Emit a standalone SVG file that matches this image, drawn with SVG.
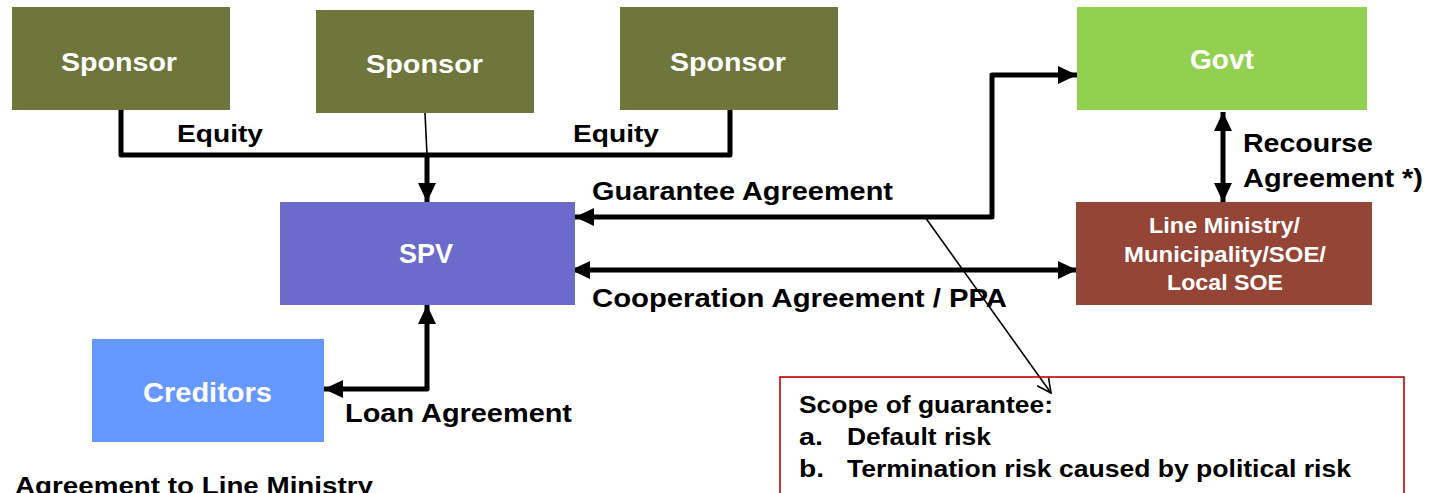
<svg xmlns="http://www.w3.org/2000/svg" width="1434" height="493" viewBox="0 0 1434 493">
<style>
.t{font-family:"Liberation Sans",Arial,sans-serif;font-weight:bold;}
.w{fill:#ffffff;}
.k{fill:#000000;}
.c{stroke:#000;stroke-width:5;fill:none;stroke-linejoin:round;}
.thin{stroke:#000;stroke-width:1.6;fill:none;}
</style>
<defs>
<marker id="ah" markerUnits="userSpaceOnUse" markerWidth="19" markerHeight="18" viewBox="0 0 19 18" refX="19" refY="9" orient="auto-start-reverse">
<path d="M0,0 L19,9 L0,18 Z" fill="#000"/>
</marker>
<marker id="open" markerUnits="userSpaceOnUse" markerWidth="16" markerHeight="16" viewBox="0 0 16 16" refX="15" refY="8" orient="auto">
<path d="M1,1 L15,8 L1,15" fill="none" stroke="#000" stroke-width="1.6"/>
</marker>
</defs>
<rect width="1434" height="493" fill="#ffffff"/>

<g id="connectors">
<path class="c" d="M121,110 V155 H730 V110"/>
<path class="thin" d="M425,113 L427,155"/>
<path class="c" d="M427,155 V202" marker-end="url(#ah)"/>
<path class="c" d="M575,217 H992 V75 H1077" marker-start="url(#ah)" marker-end="url(#ah)"/>
<path class="c" d="M571,270 H1077" marker-start="url(#ah)" marker-end="url(#ah)"/>
<path class="c" d="M1223,112 V202" marker-start="url(#ah)" marker-end="url(#ah)"/>
<path class="c" d="M427,305 V389 H324" marker-start="url(#ah)" marker-end="url(#ah)"/>
<path class="thin" d="M925,217 L1051,393" marker-end="url(#open)"/>
</g>

<g id="sponsor1">
<rect x="12" y="7" width="218" height="103" fill="#6E763C"/>
<text class="t w" x="61" y="71" font-size="26" textLength="116" lengthAdjust="spacingAndGlyphs">Sponsor</text>
</g>
<g id="sponsor2">
<rect x="316" y="10" width="218" height="103" fill="#6E763C"/>
<text class="t w" x="366" y="73" font-size="26" textLength="117" lengthAdjust="spacingAndGlyphs">Sponsor</text>
</g>
<g id="sponsor3">
<rect x="620" y="7" width="218" height="103" fill="#6E763C"/>
<text class="t w" x="670" y="71" font-size="26" textLength="116" lengthAdjust="spacingAndGlyphs">Sponsor</text>
</g>
<g id="govt">
<rect x="1077" y="7" width="290" height="103" fill="#92D050"/>
<text class="t w" x="1190" y="69" font-size="28" textLength="64" lengthAdjust="spacingAndGlyphs">Govt</text>
</g>
<g id="spv">
<rect x="280" y="202" width="295" height="103" fill="#6B6BCC"/>
<text class="t w" x="399" y="263" font-size="28" textLength="54" lengthAdjust="spacingAndGlyphs">SPV</text>
</g>
<g id="line-ministry">
<rect x="1076" y="202" width="296" height="103" fill="#954536"/>
<text class="t w" x="1149" y="233" font-size="22" textLength="151" lengthAdjust="spacingAndGlyphs">Line Ministry/</text>
<text class="t w" x="1124" y="262" font-size="22" textLength="202" lengthAdjust="spacingAndGlyphs">Municipality/SOE/</text>
<text class="t w" x="1167" y="290" font-size="22" textLength="116" lengthAdjust="spacingAndGlyphs">Local SOE</text>
</g>
<g id="creditors">
<rect x="92" y="339" width="232" height="103" fill="#6699FF"/>
<text class="t w" x="143" y="402" font-size="28" textLength="129" lengthAdjust="spacingAndGlyphs">Creditors</text>
</g>
<g id="scope">
<rect x="780" y="377" width="624" height="130" fill="none" stroke="#C00000" stroke-width="1.6"/>
<text class="t k" x="799" y="413" font-size="23" textLength="254" lengthAdjust="spacingAndGlyphs">Scope of guarantee:</text>
<text class="t k" x="799" y="445" font-size="23" textLength="24" lengthAdjust="spacingAndGlyphs">a.</text>
<text class="t k" x="847" y="445" font-size="23" textLength="144" lengthAdjust="spacingAndGlyphs">Default risk</text>
<text class="t k" x="799" y="477" font-size="23" textLength="25" lengthAdjust="spacingAndGlyphs">b.</text>
<text class="t k" x="847" y="477" font-size="23" textLength="504" lengthAdjust="spacingAndGlyphs">Termination risk caused by political risk</text>
</g>

<g id="labels">
<text class="t k" x="177" y="142" font-size="23" textLength="86" lengthAdjust="spacingAndGlyphs">Equity</text>
<text class="t k" x="573" y="142" font-size="23" textLength="86" lengthAdjust="spacingAndGlyphs">Equity</text>
<text class="t k" x="592" y="200" font-size="25" textLength="301" lengthAdjust="spacingAndGlyphs">Guarantee Agreement</text>
<text class="t k" x="592" y="307" font-size="25" textLength="415" lengthAdjust="spacingAndGlyphs">Cooperation Agreement / PPA</text>
<text class="t k" x="1243" y="152" font-size="25" textLength="130" lengthAdjust="spacingAndGlyphs">Recourse</text>
<text class="t k" x="1243" y="187" font-size="25" textLength="180" lengthAdjust="spacingAndGlyphs">Agreement *)</text>
<text class="t k" x="345" y="422" font-size="25" textLength="227" lengthAdjust="spacingAndGlyphs">Loan Agreement</text>
<text class="t k" x="15" y="494" font-size="24" textLength="358" lengthAdjust="spacingAndGlyphs">Agreement to Line Ministry</text>
</g>
</svg>
